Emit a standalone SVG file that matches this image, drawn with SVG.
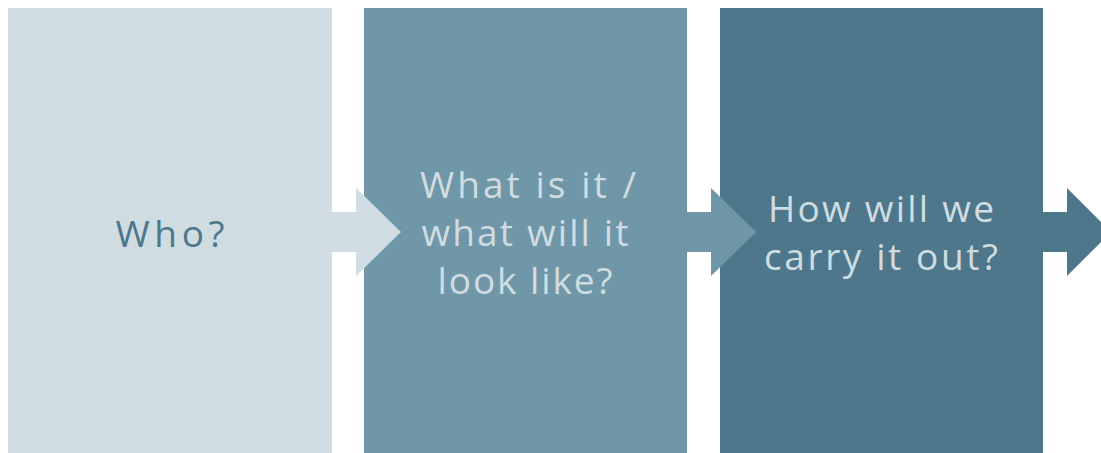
<svg xmlns="http://www.w3.org/2000/svg" width="1101" height="453" viewBox="0 0 1101 453">
<style>
text{font-family:"Open Sans","Noto Sans",sans-serif;font-size:37px;text-anchor:middle}
.c1{fill:#CFDCE1}.c2{fill:#7097A8}.c3{fill:#4E778B}
</style>
<rect width="1101" height="453" fill="#FFFFFF"/>
<g id="box1"><rect class="c1" x="8" y="8" width="324" height="445"/><text class="c3" x="170" y="247" textLength="109" lengthAdjust="spacing">Who?</text></g>
<g id="box2"><rect class="c2" x="364" y="8" width="323" height="445"/>
<text class="c1" x="528" y="198" textLength="216" lengthAdjust="spacing">What is it /</text><text class="c1" x="525" y="246" textLength="207" lengthAdjust="spacing">what will it</text><text class="c1" x="525" y="294" textLength="175" lengthAdjust="spacing">look like?</text></g>
<g id="box3"><rect class="c3" x="720" y="8" width="323" height="445"/>
<text class="c1" x="881" y="222" textLength="226" lengthAdjust="spacing">How will we</text><text class="c1" x="881" y="270" textLength="234" lengthAdjust="spacing">carry it out?</text></g>
<g id="connectors">
<polygon class="c1" points="332,212 356,212 356,188 401,232 356,276 356,252 332,252"/>
<polygon class="c2" points="687,212 711,212 711,188 756,232 711,276 711,252 687,252"/>
<polygon class="c3" points="1043,212 1067,212 1067,188 1111,232 1067,276 1067,252 1043,252"/>
</g>
</svg>
